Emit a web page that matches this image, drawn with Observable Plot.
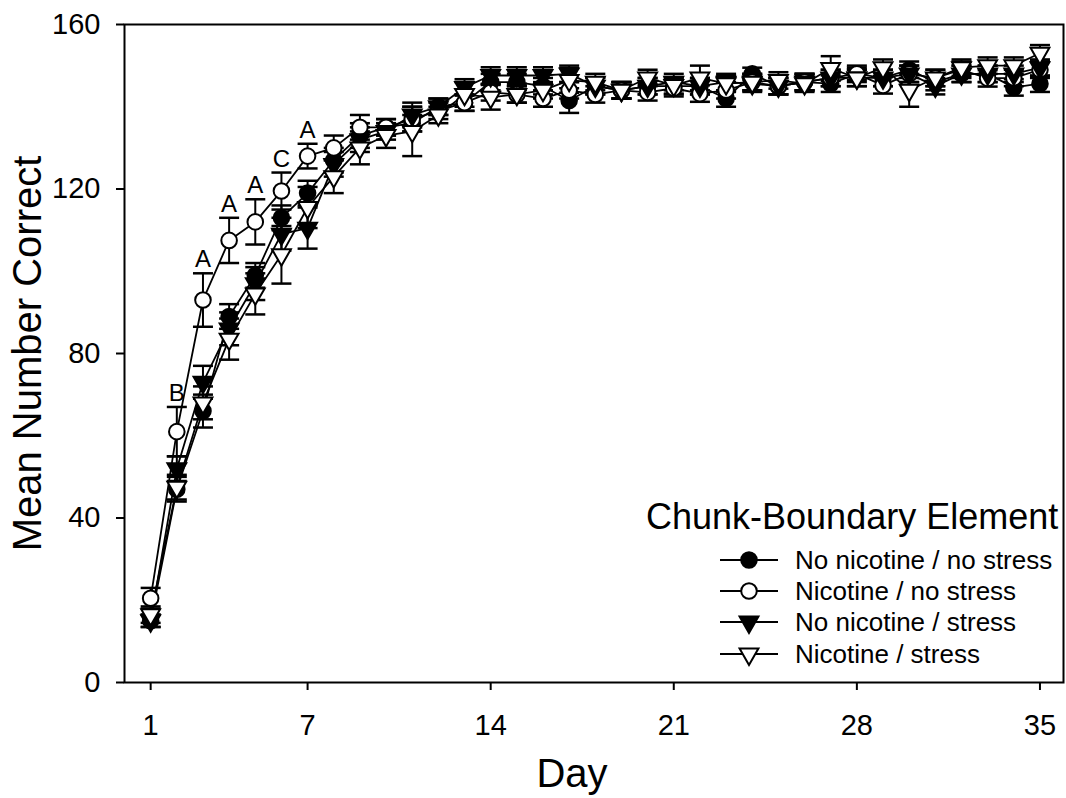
<!DOCTYPE html>
<html><head><meta charset="utf-8">
<script src="https://cdn.jsdelivr.net/npm/d3@7"></script>
<script src="https://cdn.jsdelivr.net/npm/@observablehq/plot@0.6"></script>
<style>
html,body{margin:0;padding:0;background:#fff;}
#wrap{position:relative;width:1066px;height:798px;font-family:"Liberation Sans",Arial,sans-serif;color:#000;overflow:hidden;}
#wrap svg{display:block;}
.lg-title{position:absolute;font-size:36px;line-height:36px;white-space:nowrap;}
.lg-row{position:absolute;display:flex;align-items:center;height:32px;white-space:nowrap;font-size:26px;}
.lg-row svg{margin-right:17px;}
</style></head><body><div id="wrap"></div>
<script>
// ---- data ----
const days = [1,2,3,4,5,6,7,8,9,10,11,12,13,14,15,16,17,18,19,20,21,22,23,24,25,26,27,28,29,30,31,32,33,34,35];
const seriesNames = ["No nicotine / no stress","Nicotine / no stress","No nicotine / stress","Nicotine / stress"];
const legendTitle = "Chunk-Boundary Element";

const meanNoNicNoStress = [15,47,66,89,99,113,119,127,133,135,136,140,141,146,146,145,141.5,145,144,145,145,145,142,148,145,146,145.6,148,147,149,146,148,148,144.7,145.6];
const semNoNicNoStress  = [1.5,3,4,3,3,3,3,3,3,2,2,2,2,2,2,2,3,2,2,2,2,2,2,1.5,2,2,2,1.5,2,2,2,2,2,2,2];

const meanNicNoStress = [20.5,61,93,107.5,112,119.5,128,130,135,135,137,139,141,143.5,143,142,144,143,144,143.5,144.5,143.2,144,146,145,146,147,148,145.2,148,147,149,146.9,147,149];
const semNicNoStress  = [2.5,6,6.5,5.5,5.5,4.5,3,3,3,2,3,2,2,2,2,2,2,2,2,2,2,2,2,2,2,2,2,2,2,2,2,2,2,2,2];

const meanNoNicStress = [15,52,73,86,97,109,110.5,126,132,134,138,140,144.7,147.6,147.6,147.6,148,145,144,145,146,145,146,145.6,145,146,147,147,147,148,145,148,148,148,149.5];
const semNoNicStress  = [1.5,3,4,4,4,4,5,3,3,2,3,2,2,2,2,2,2,2,2,2,2,2,2,2,2,2,2,2,2,2,2,2,2,2,2];

const meanNicStress = [16.5,47.5,68,83.5,94.5,104,115.5,123,130,133,134,138,143,142.3,143,144,146.4,146,144,147,145.2,147,145.6,146,146.4,145.6,149.3,147,149.5,144,147,149.5,150,150,153];
const semNicStress  = [2,3,4,5,5,7,5,4,4,3,6,2,3,3,2,2,3,2,2,2,2,3,2,2,2,2,3,2,2,4,2,2,2,2,2];

const letterDays = [2,3,4,5,6,7];
const letters = ["B","A","A","A","C","A"];
const xTicks = [1,7,14,21,28,35];
const yTicks = [0,40,80,120,160];

// ---- table ----
const means = [meanNoNicNoStress, meanNicNoStress, meanNoNicStress, meanNicStress];
const sems = [semNoNicNoStress, semNicNoStress, semNoNicStress, semNicStress];
const rows = [];
seriesNames.forEach((s, i) => days.forEach((d, j) => rows.push({series: s, day: d, mean: means[i][j], sem: sems[i][j]})));
const letterRows = letterDays.map((d, k) => {
  const j = days.indexOf(d);
  return {day: d, letter: letters[k], top: meanNicNoStress[j] + semNicNoStress[j]};
});

const styles = [
  {symbol: "circle", fill: "black", rotate: 0, r: 7.8},
  {symbol: "circle", fill: "white", rotate: 0, r: 7.8},
  {symbol: "triangle", fill: "black", rotate: 180, r: 7},
  {symbol: "triangle", fill: "white", rotate: 180, r: 7}
];

const capSymbol = {draw(ctx, size) { const w = Math.sqrt(size / Math.PI); ctx.moveTo(-w, 0); ctx.lineTo(w, 0); }};
const font = '"Liberation Sans", Arial, sans-serif';

const dotMarks = seriesNames.map((s, i) => Plot.dot(rows.filter(r => r.series === s), {
  x: "day", y: "mean", symbol: styles[i].symbol, rotate: styles[i].rotate, r: styles[i].r,
  fill: styles[i].fill, stroke: "black", strokeWidth: 2
}));

const chart = Plot.plot({
  width: 1066, height: 798,
  marginLeft: 124, marginRight: 3, marginTop: 24, marginBottom: 116,
  style: {fontFamily: font, fontSize: "29px", color: "black", background: "white"},
  x: {domain: [0, 35.9]},
  y: {domain: [0, 160]},
  marks: [
    Plot.frame({stroke: "black", strokeWidth: 2}),
    Plot.axisX({ticks: xTicks, tickSize: 8, tickPadding: 24, fontSize: 29, label: null, strokeWidth: 2}),
    Plot.axisY({ticks: yTicks, tickSize: 8, tickPadding: 16, fontSize: 29, label: null, strokeWidth: 2}),
    Plot.text(["Day"], {frameAnchor: "bottom", lineAnchor: "bottom", dy: 104, dx: -22, fontSize: 40}),
    Plot.text(["Mean Number Correct"], {frameAnchor: "left", textAnchor: "middle", rotate: -90, dx: -96, fontSize: 40}),
    Plot.line(rows, {x: "day", y: "mean", z: "series", stroke: "black", strokeWidth: 1.8}),
    Plot.ruleX(rows, {x: "day", y1: d => d.mean - d.sem, y2: d => d.mean + d.sem, stroke: "black", strokeWidth: 2}),
    Plot.dot(rows, {x: "day", y: d => d.mean + d.sem, symbol: capSymbol, r: 10, stroke: "black", strokeWidth: 2.5, fill: "none"}),
    Plot.dot(rows, {x: "day", y: d => d.mean - d.sem, symbol: capSymbol, r: 10, stroke: "black", strokeWidth: 2.5, fill: "none"}),
    ...dotMarks,
    Plot.text(letterRows, {x: "day", y: "top", text: "letter", lineAnchor: "bottom", dy: -6, fontSize: 24})
  ]
});
const wrap = document.getElementById("wrap");
wrap.appendChild(chart);

// ---- legend (HTML overlay) ----
const t = document.createElement("div");
t.className = "lg-title"; t.textContent = legendTitle;
t.style.left = "646px"; t.style.top = "499px";
wrap.appendChild(t);
const rowTops = [544, 575, 606, 638];
seriesNames.forEach((s, i) => {
  const row = document.createElement("div");
  row.className = "lg-row";
  row.style.left = "720px"; row.style.top = rowTops[i] + "px";
  const st = styles[i];
  const sym = d3.symbol(st.symbol === "circle" ? d3.symbolCircle : d3.symbolTriangle, st.r * st.r * Math.PI)();
  row.innerHTML = `<svg width="58" height="32"><line x1="0" x2="58" y1="16" y2="16" stroke="black" stroke-width="2"/>` +
    `<path d="${sym}" transform="translate(29,16) rotate(${st.rotate})" fill="${st.fill}" stroke="black" stroke-width="2"/></svg><span>${s}</span>`;
  wrap.appendChild(row);
});
</script></body></html>
